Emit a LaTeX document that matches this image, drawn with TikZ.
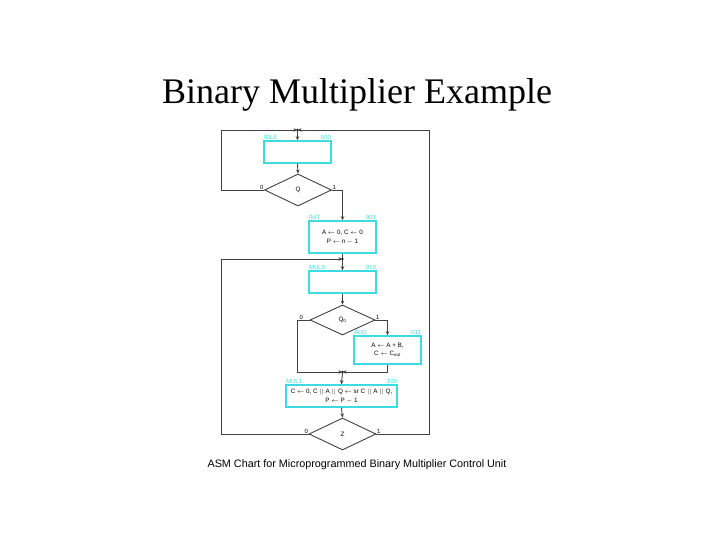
\documentclass[tikz,border=0pt]{standalone}
\usepackage{fontspec}
\setmainfont{Liberation Serif}
\setsansfont{Liberation Sans}
\usetikzlibrary{shapes.geometric,arrows.meta}
\definecolor{asmcyan}{RGB}{60,218,225}

\begin{document}
\begin{tikzpicture}[x=1pt,y=-1pt,
		statebox/.style={draw=asmcyan,line width=1.5pt,minimum width=67pt,minimum height=22pt,inner sep=0pt,align=center,font=\sffamily\fontsize{6.3}{8.5}\selectfont},
		statelbl/.style={text=asmcyan,inner sep=0.6pt,font=\sffamily\fontsize{6}{7}\selectfont},
		decbox/.style={draw=black!75,line width=0.9pt,diamond,minimum width=67pt,minimum height=32pt,inner sep=0pt,font=\sffamily\fontsize{6.3}{7}\selectfont},
		branch/.style={inner sep=0.5pt,font=\sffamily\fontsize{6}{7}\selectfont},
		flow/.style={draw=black!75,line width=0.9pt,-{Stealth[length=4pt,width=3.5pt]}},
		wire/.style={draw=black!75,line width=0.9pt}]
		\useasboundingbox (0,0) rectangle (720,540);

		\node[font=\fontsize{36}{40}\selectfont] (title) at (357,95) {Binary Multiplier Example};

		\node[statebox] (idle) at (297.5,152) {};
		\node[statelbl,anchor=south west] (idleN) at (idle.north west) {IDLE};
		\node[statelbl,anchor=south east] (idleC) at (idle.north east) {000};
		\node[decbox] (q) at (298,190) {Q};

		\node[statebox,minimum height=32pt] (init) at (342.5,237) {A $\leftarrow$ 0, C $\leftarrow$ 0\\P $\leftarrow$ n $-$ 1};
		\node[statelbl,anchor=south west] (initN) at (init.north west) {INIT};
		\node[statelbl,anchor=south east] (initC) at (init.north east) {001};

		\node[statebox] (mul0) at (342.5,282) {};
		\node[statelbl,anchor=south west] (mul0N) at (mul0.north west) {MUL0};
		\node[statelbl,anchor=south east] (mul0C) at (mul0.north east) {010};
		\node[decbox,minimum width=65pt,minimum height=30pt] (q0) at (342.5,320) {Q\textsubscript{0}};

		\node[statebox,minimum height=28pt] (add) at (387.5,350) {A $\leftarrow$ A + B,\\C $\leftarrow$ C\textsubscript{out}};
		\node[statelbl,anchor=south west] (addN) at (add.north west) {ADD};
		\node[statelbl,anchor=south east] (addC) at (add.north east) {011};

		\node[statebox,minimum width=111pt] (mul1) at (341.5,396) {C $\leftarrow$ 0, C $||$ A $||$ Q $\leftarrow$ sr C $||$ A $||$ Q,\\P $\leftarrow$ P $-$ 1};
		\node[statelbl,anchor=south west] (mul1N) at (mul1.north west) {MUL1};
		\node[statelbl,anchor=south east] (mul1C) at (mul1.north east) {100};
		\node[decbox] (z) at (342.5,434) {Z};

		\coordinate (jtop) at (297.5,130);
		\coordinate (jmul0) at (342.5,259);
		\coordinate (jmul1) at (342.5,372);
		\coordinate (idleloop) at (221,130);
		\coordinate (outerloop) at (429,130);
		\coordinate (mulloop) at (221,259);
		\coordinate (q0loop) at (297,372);

		\draw[flow] (jtop) -- (idle.north);
		\draw[flow] (idle.south) -- (q.north);
		\draw[wire] (q.west) -| (idleloop);
		\draw[flow] (idleloop) -- (jtop);
		\draw[flow] (q.east) -| (init.north);
		\draw[wire] (init.south) -- (jmul0);
		\draw[flow] (jmul0) -- (mul0.north);
		\draw[flow] (mul0.south) -- (q0.north);
		\draw[flow] (q0.east) -| (add.north);
		\draw[wire] (q0.west) -| (q0loop);
		\draw[flow] (q0loop) -- (jmul1);
		\draw[flow] (add.south) |- (jmul1);
		\draw[flow] (jmul1) -- (mul1.north);
		\draw[flow] (mul1.south) -- (z.north);
		\draw[wire] (z.west) -| (mulloop);
		\draw[flow] (mulloop) -- (jmul0);
		\draw[wire] (z.east) -| (outerloop);
		\draw[flow] (outerloop) -- (jtop);

		\fill[black!80] (jtop) circle (1.3pt) (jmul0) circle (1.3pt) (jmul1) circle (1.3pt);

		\node[branch,anchor=south east] (q0lbl) at (q.west) {0};
		\node[branch,anchor=south west] (q1lbl) at (q.east) {1};
		\node[branch,anchor=south west] (q00lbl) at ([xshift=2pt]q0loop |- q0.west) {0};
		\node[branch,anchor=south west] (q01lbl) at (q0.east) {1};
		\node[branch,anchor=south east] (z0lbl) at (z.west) {0};
		\node[branch,anchor=south west] (z1lbl) at (z.east) {1};

		\node[font=\sffamily\fontsize{10.8}{12}\selectfont] (caption) at (357,465) {ASM Chart for Microprogrammed Binary Multiplier Control Unit};
	\end{tikzpicture}
\end{document}
